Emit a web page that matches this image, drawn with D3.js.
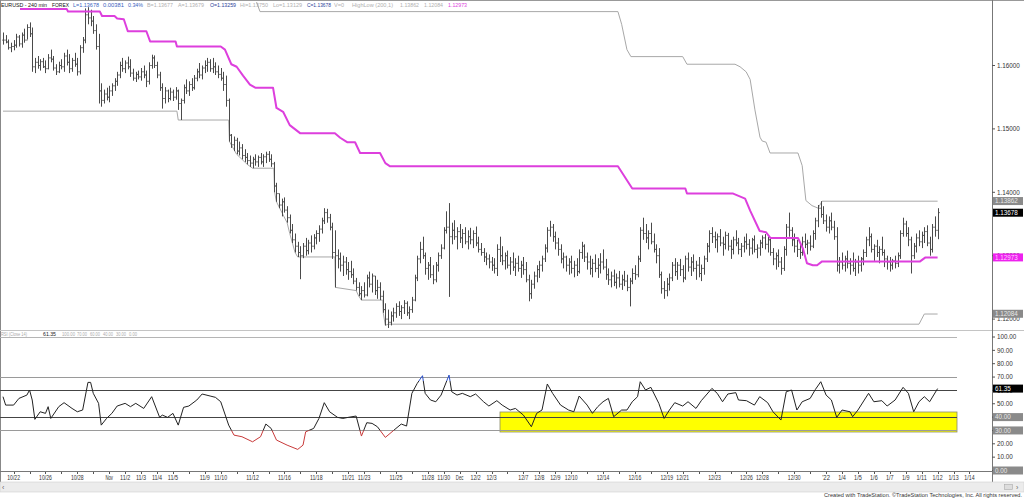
<!DOCTYPE html>
<html><head><meta charset="utf-8">
<script src="https://cdn.jsdelivr.net/npm/d3@7"></script>
<style>body{margin:0;background:#fff;}svg{display:block;}</style>
</head><body><svg id="c" width="1024" height="499"></svg>
<script>
// ---------- DATA ----------
const hi=[1.1652,1.1648,1.1641,1.1636,1.1640,1.1650,1.1648,1.1652,1.1658,1.1665,
1.1668,1.1660,1.1612,1.1615,1.1610,1.1612,1.1608,1.1618,1.1625,1.1615,
1.1602,1.1606,1.1610,1.1620,1.1625,1.1618,1.1612,1.1620,1.1612,1.1632,
1.1645,1.1690,1.1692,1.1688,1.1678,1.1665,1.1650,1.1572,1.1562,1.1565,
1.1568,1.1572,1.1580,1.1590,1.1606,1.1612,1.1608,1.1614,1.1610,1.1595,
1.1590,1.1592,1.1596,1.1600,1.1592,1.1605,1.1617,1.1616,1.1606,1.1590,
1.1572,1.1566,1.1562,1.1565,1.1562,1.1566,1.1562,1.1548,1.1570,1.1578,
1.1575,1.1580,1.1585,1.1595,1.1604,1.1600,1.1608,1.1612,1.1610,1.1612,
1.1605,1.1600,1.1596,1.1590,1.1584,1.1548,1.1492,1.1488,1.1486,1.1480,
1.1476,1.1468,1.1462,1.1458,1.1456,1.1460,1.1458,1.1462,1.1460,1.1464,
1.1465,1.1460,1.1448,1.1415,1.1398,1.1390,1.1392,1.1378,1.1365,1.1350,
1.1335,1.1322,1.1315,1.1320,1.1328,1.1325,1.1332,1.1334,1.1340,1.1348,
1.1360,1.1375,1.1374,1.1366,1.1352,1.1340,1.1310,1.1305,1.1300,1.1298,
1.1290,1.1292,1.1280,1.1265,1.1258,1.1252,1.1258,1.1270,1.1275,1.1272,
1.1268,1.1262,1.1258,1.1245,1.1225,1.1215,1.1212,1.1218,1.1225,1.1228,
1.1222,1.1230,1.1228,1.1220,1.1235,1.1270,1.1300,1.1322,1.1330,1.1305,
1.1290,1.1298,1.1285,1.1290,1.1305,1.1318,1.1345,1.1370,1.1383,1.1352,
1.1356,1.1345,1.1350,1.1342,1.1345,1.1340,1.1344,1.1340,1.1346,1.1330,
1.1320,1.1312,1.1305,1.1302,1.1298,1.1296,1.1318,1.1330,1.1315,1.1305,
1.1308,1.1298,1.1305,1.1296,1.1300,1.1292,1.1298,1.1290,1.1270,1.1262,
1.1275,1.1285,1.1292,1.1300,1.1318,1.1345,1.1355,1.1350,1.1338,1.1328,
1.1318,1.1305,1.1300,1.1296,1.1300,1.1292,1.1296,1.1310,1.1322,1.1318,
1.1305,1.1300,1.1295,1.1302,1.1296,1.1304,1.1310,1.1295,1.1280,1.1275,
1.1278,1.1272,1.1276,1.1270,1.1276,1.1270,1.1265,1.1280,1.1285,1.1300,
1.1345,1.1360,1.1350,1.1340,1.1352,1.1335,1.1318,1.1312,1.1275,1.1260,
1.1265,1.1272,1.1290,1.1296,1.1290,1.1295,1.1285,1.1300,1.1305,1.1298,
1.1302,1.1292,1.1298,1.1286,1.1300,1.1320,1.1340,1.1345,1.1338,1.1335,
1.1342,1.1330,1.1338,1.1336,1.1325,1.1330,1.1340,1.1328,1.1320,1.1330,
1.1335,1.1326,1.1328,1.1332,1.1318,1.1325,1.1332,1.1334,1.1330,1.1328,
1.1312,1.1305,1.1310,1.1298,1.1315,1.1350,1.1368,1.1345,1.1335,1.1325,
1.1320,1.1330,1.1335,1.1325,1.1332,1.1340,1.1360,1.1380,1.1386,1.1378,
1.1365,1.1362,1.1368,1.1355,1.1345,1.1298,1.1305,1.1300,1.1308,1.1296,
1.1305,1.1295,1.1300,1.1298,1.1310,1.1330,1.1345,1.1335,1.1318,1.1325,
1.1315,1.1330,1.1310,1.1300,1.1298,1.1295,1.1300,1.1305,1.1340,1.1360,
1.1355,1.1345,1.1330,1.1320,1.1335,1.1340,1.1338,1.1345,1.1348,1.1330,
1.1350,1.1362,1.1375];
const lo=[1.1633,1.1635,1.1625,1.1621,1.1624,1.1628,1.1630,1.1628,1.1636,1.1641,
1.1645,1.1590,1.1588,1.1595,1.1592,1.1596,1.1588,1.1594,1.1605,1.1592,
1.1585,1.1588,1.1594,1.1590,1.1600,1.1588,1.1590,1.1598,1.1584,1.1586,
1.1620,1.1635,1.1665,1.1662,1.1650,1.1625,1.1540,1.1535,1.1540,1.1545,
1.1542,1.1552,1.1560,1.1568,1.1580,1.1590,1.1588,1.1594,1.1582,1.1576,
1.1574,1.1578,1.1576,1.1580,1.1566,1.1570,1.1595,1.1596,1.1580,1.1560,
1.1532,1.1540,1.1542,1.1545,1.1544,1.1546,1.1530,1.1514,1.1540,1.1555,
1.1552,1.1560,1.1562,1.1575,1.1580,1.1578,1.1588,1.1590,1.1590,1.1588,
1.1585,1.1580,1.1576,1.1560,1.1535,1.1480,1.1470,1.1465,1.1460,1.1458,
1.1452,1.1448,1.1444,1.1440,1.1438,1.1442,1.1440,1.1444,1.1440,1.1446,
1.1448,1.1440,1.1400,1.1385,1.1375,1.1362,1.1368,1.1352,1.1335,1.1320,
1.1305,1.1298,1.1263,1.1296,1.1300,1.1302,1.1305,1.1310,1.1318,1.1322,
1.1335,1.1350,1.1352,1.1340,1.1295,1.1250,1.1280,1.1275,1.1268,1.1270,
1.1262,1.1265,1.1255,1.1245,1.1236,1.1230,1.1234,1.1236,1.1250,1.1242,
1.1238,1.1232,1.1230,1.1210,1.1190,1.1186,1.1190,1.1196,1.1202,1.1205,
1.1200,1.1208,1.1205,1.1200,1.1210,1.1228,1.1260,1.1288,1.1295,1.1270,
1.1262,1.1265,1.1255,1.1258,1.1275,1.1295,1.1310,1.1335,1.1235,1.1318,
1.1325,1.1310,1.1320,1.1312,1.1318,1.1310,1.1318,1.1312,1.1315,1.1305,
1.1300,1.1290,1.1285,1.1280,1.1276,1.1272,1.1268,1.1290,1.1285,1.1278,
1.1280,1.1270,1.1276,1.1268,1.1275,1.1265,1.1270,1.1258,1.1228,1.1232,
1.1248,1.1258,1.1265,1.1275,1.1290,1.1305,1.1330,1.1322,1.1310,1.1300,
1.1288,1.1280,1.1275,1.1270,1.1272,1.1266,1.1268,1.1272,1.1295,1.1290,
1.1278,1.1270,1.1266,1.1274,1.1265,1.1272,1.1278,1.1262,1.1254,1.1250,
1.1252,1.1248,1.1250,1.1246,1.1252,1.1244,1.1220,1.1255,1.1262,1.1266,
1.1290,1.1325,1.1320,1.1310,1.1318,1.1305,1.1288,1.1265,1.1240,1.1232,
1.1236,1.1245,1.1260,1.1268,1.1262,1.1268,1.1258,1.1262,1.1275,1.1268,
1.1275,1.1262,1.1266,1.1260,1.1270,1.1290,1.1305,1.1320,1.1312,1.1305,
1.1315,1.1300,1.1310,1.1308,1.1295,1.1302,1.1315,1.1302,1.1298,1.1305,
1.1310,1.1300,1.1302,1.1305,1.1296,1.1300,1.1312,1.1310,1.1305,1.1300,
1.1285,1.1278,1.1282,1.1270,1.1276,1.1300,1.1330,1.1315,1.1305,1.1298,
1.1295,1.1300,1.1312,1.1302,1.1308,1.1312,1.1325,1.1345,1.1360,1.1350,
1.1338,1.1335,1.1340,1.1325,1.1275,1.1272,1.1278,1.1275,1.1280,1.1270,
1.1275,1.1268,1.1272,1.1275,1.1285,1.1298,1.1315,1.1305,1.1292,1.1298,
1.1288,1.1300,1.1282,1.1278,1.1275,1.1278,1.1280,1.1282,1.1295,1.1330,
1.1330,1.1315,1.1272,1.1295,1.1305,1.1315,1.1312,1.1320,1.1315,1.1300,
1.1305,1.1330,1.1326];
const cl=[1.1640,1.1637,1.1628,1.1630,1.1632,1.1645,1.1634,1.1648,1.1640,1.1660,
1.1650,1.1598,1.1605,1.1600,1.1606,1.1598,1.1595,1.1612,1.1610,1.1596,
1.1590,1.1600,1.1598,1.1615,1.1605,1.1595,1.1608,1.1602,1.1590,1.1628,
1.1640,1.1680,1.1675,1.1670,1.1655,1.1630,1.1560,1.1545,1.1555,1.1550,
1.1560,1.1568,1.1575,1.1585,1.1600,1.1595,1.1604,1.1598,1.1588,1.1580,
1.1586,1.1582,1.1590,1.1585,1.1575,1.1600,1.1612,1.1600,1.1585,1.1565,
1.1548,1.1560,1.1548,1.1558,1.1550,1.1560,1.1540,1.1545,1.1565,1.1560,
1.1570,1.1565,1.1580,1.1590,1.1585,1.1596,1.1600,1.1605,1.1595,1.1598,
1.1590,1.1586,1.1580,1.1570,1.1545,1.1490,1.1475,1.1482,1.1465,1.1470,
1.1458,1.1455,1.1450,1.1446,1.1452,1.1448,1.1455,1.1448,1.1456,1.1460,
1.1452,1.1445,1.1410,1.1398,1.1380,1.1385,1.1372,1.1360,1.1340,1.1325,
1.1315,1.1305,1.1300,1.1315,1.1308,1.1320,1.1315,1.1328,1.1335,1.1342,
1.1355,1.1368,1.1360,1.1345,1.1305,1.1300,1.1295,1.1285,1.1290,1.1278,
1.1275,1.1270,1.1260,1.1250,1.1240,1.1245,1.1238,1.1265,1.1255,1.1268,
1.1245,1.1250,1.1236,1.1215,1.1200,1.1195,1.1205,1.1210,1.1220,1.1212,
1.1218,1.1225,1.1210,1.1215,1.1230,1.1265,1.1295,1.1310,1.1300,1.1280,
1.1285,1.1270,1.1262,1.1285,1.1300,1.1312,1.1340,1.1345,1.1330,1.1340,
1.1330,1.1338,1.1328,1.1335,1.1322,1.1330,1.1325,1.1335,1.1320,1.1310,
1.1305,1.1298,1.1295,1.1290,1.1285,1.1280,1.1310,1.1300,1.1292,1.1300,
1.1285,1.1290,1.1282,1.1288,1.1280,1.1285,1.1278,1.1262,1.1240,1.1255,
1.1268,1.1278,1.1285,1.1295,1.1312,1.1340,1.1345,1.1330,1.1320,1.1310,
1.1295,1.1298,1.1285,1.1290,1.1280,1.1285,1.1275,1.1305,1.1315,1.1298,
1.1290,1.1280,1.1288,1.1280,1.1285,1.1290,1.1282,1.1270,1.1262,1.1268,
1.1258,1.1265,1.1255,1.1262,1.1260,1.1250,1.1260,1.1272,1.1270,1.1295,
1.1340,1.1335,1.1328,1.1335,1.1322,1.1310,1.1300,1.1270,1.1248,1.1245,
1.1255,1.1265,1.1285,1.1275,1.1285,1.1278,1.1265,1.1295,1.1282,1.1290,
1.1280,1.1285,1.1272,1.1280,1.1295,1.1315,1.1335,1.1330,1.1325,1.1330,
1.1320,1.1318,1.1332,1.1315,1.1310,1.1325,1.1320,1.1310,1.1315,1.1322,
1.1318,1.1312,1.1325,1.1310,1.1312,1.1320,1.1328,1.1318,1.1325,1.1305,
1.1295,1.1300,1.1290,1.1280,1.1310,1.1345,1.1340,1.1325,1.1315,1.1310,
1.1305,1.1322,1.1318,1.1320,1.1315,1.1335,1.1355,1.1375,1.1365,1.1355,
1.1345,1.1355,1.1345,1.1330,1.1285,1.1290,1.1285,1.1295,1.1288,1.1285,
1.1280,1.1290,1.1285,1.1295,1.1305,1.1325,1.1330,1.1310,1.1315,1.1305,
1.1310,1.1305,1.1295,1.1290,1.1285,1.1292,1.1288,1.1300,1.1335,1.1350,
1.1335,1.1325,1.1300,1.1315,1.1328,1.1322,1.1332,1.1338,1.1320,1.1310,
1.1345,1.1340,1.1368];

// magenta indicator (bar index, value)
const magBar=[6.4,24,24.5,36.5,37.3,42,43,45.5,47,54,55.4,65,65.5,82,83.6,86,88,90.4,93,95,101.7,103,105.5,108,112,125,127,129.6,132.6,134.5,142,144,145.8,231.6,237,257,257.6,275,279.5,281.4,285,287.4,289,299.4,301.3,302.8,305,306.6,308.5,345.4,347.3,352];
const magVal=[1.1689,1.1689,1.1685,1.1685,1.1678,1.1678,1.1674,1.1673,1.1654,1.1654,1.1638,1.1638,1.1630,1.1630,1.1625,1.1602,1.1598,1.1584,1.1570,1.1565,1.1565,1.1533,1.1527,1.1506,1.1493,1.1493,1.1486,1.1479,1.1479,1.1462,1.1462,1.1446,1.1441,1.1441,1.1406,1.1406,1.1398,1.1398,1.1390,1.1371,1.1339,1.1337,1.1328,1.1328,1.1311,1.1288,1.1285,1.1285,1.1291,1.1291,1.1297,1.1297];
// HighLow(200,1) upper and lower
const hhBar=[95.5,96.8,231.6,233,235,236.5,256,257.6,275.7,277.6,279.9,281.4,283.2,285.1,285.9,287.4,288.9,299.4,301,302.4,304.7,307,308.5,352];
const hhVal=[1.1700,1.1685,1.1685,1.1665,1.1625,1.1614,1.1614,1.1602,1.1602,1.1598,1.1590,1.1578,1.1530,1.1487,1.1481,1.1479,1.1462,1.1462,1.1442,1.1387,1.1379,1.1375,1.1386,1.1386];
const llBar=[0,65.5,66,85,85.3,88,90,92,94,102,102.3,103,107,108,109,110,111,125,125.2,133,134,135,143,143.2,144,145,345,346,347,352];
const llVal=[1.1528,1.1528,1.1514,1.1514,1.1480,1.1460,1.1452,1.1444,1.1438,1.1438,1.1400,1.1385,1.1352,1.1335,1.1320,1.1305,1.1298,1.1298,1.1250,1.1245,1.1236,1.1230,1.1230,1.1210,1.1190,1.1192,1.1192,1.1200,1.1208,1.1208];

// RSI(14) (bar index, value)
const rsiBar=[0,1,4,6,9,10,11,12,14,16,17,18,21,23,26,28,30,32,33,34,36,37,39,41,43,46,48,50,53,56,59,60,62,64,66,68,70,73,75,78,80,82,85,87,90,94,97,99,101,103,107,111,113,114,117,119,121,123,126,128,130,133,135,137,139,141,144,148,150,152,154,156,158,159,161,163,165,168,169,171,173,176,178,181,183,186,188,191,193,196,199,201,203,205,207,210,213,215,217,220,222,224,226,228,230,233,235,237,239,240,242,244,247,249,251,253,256,258,261,263,267,269,271,273,276,277,280,283,285,288,290,293,295,297,299,301,304,306,308,310,312,314,316,319,320,322,326,328,331,333,336,339,341,343,345,347,349,352];
const rsiVal=[55.3,49,49,54,56.5,60.3,52.8,38.3,44,42.8,47.8,39,47.8,50.8,46.5,44,45.3,66,66,57.8,50.3,34,39,42.8,48.3,50.3,47.8,50.3,46.5,55.3,39.8,41.5,39.8,42.8,34,47.3,48.3,52.8,57.3,55.8,54.8,51.5,34,26.5,25.3,21.5,25.3,34.8,31.5,22.8,19,15.8,19,29,31.5,39,50.8,44,39.8,39,39.8,40.8,25.8,35.8,35.3,32.8,24.8,31.5,34.8,33.3,57.8,65.2,71,57.8,52.8,51.5,56.5,71.5,59,56.5,57.8,55.3,57.3,51.5,48.3,52.3,49,45.3,46.5,41.5,32.8,42.8,45.3,64.8,57.8,49,45.3,44,55.8,49,42.8,47.8,51.5,54,40.3,45.3,45.3,51.5,55.3,66.5,60.3,62.3,50.3,39,45.3,50.8,48.3,51.5,46.5,52.3,61.5,57.8,51.5,57.3,58.3,52.8,52.3,49,55.3,50.8,44,37.8,59,60.3,45.3,51.5,54,60.8,66.5,56.5,52.8,39.8,45.3,44,40.3,45.3,57.8,51.5,52.3,48.3,52.8,62.3,57.8,44,51.5,55.3,51.5,61.35];
const rsiLevels=[100,70,60,40,30];

// x-axis: trading-day index -> label
const dayIdx=[0,2,4,6,7,8,9,10,12,13,15,17,19,21,22,24,26,27,28,29,30,32,33,34,35,37,39,41,42,44,46,47,49,51,52,53,54,55,56,57,58,59,60];
const dayLbl=["10/22","10/26","10/28","Nov","11/2","11/3","11/4","11/5","11/9","11/10","11/12","11/16","11/18","11/21","11/23","11/25","11/28","11/30","Dec","12/2","12/3","12/7","12/8","12/9","12/10","12/14","12/16","12/19","12/21","12/23","12/26","12/28","12/30","'22","1/4","1/5","1/6","1/7","1/9","1/11","1/12","1/13","1/14"];
const priceTicks=[1.12,1.13,1.14,1.15,1.16];
const rsiTicks=[100,90,80,70,60,50,40,30,20,10,0];

// ---------- DRAW ----------
const FONT='"Liberation Sans", Arial, sans-serif';
const NARROW='"Liberation Sans Narrow","Arial Narrow","Liberation Sans",Arial,sans-serif';
const svg=d3.select('#c').style('font-family',FONT);
const AX=992;
const x=d3.scaleLinear().domain([0,352]).range([3,937.6]);
const yP=d3.scaleLinear().domain([1.12,1.16]).range([319.1,65.5]);
const yR=d3.scaleLinear().domain([0,100]).range([470.5,337]);
const barsPerDay=6, dayOffset=4;

svg.append('rect').attr('width',1024).attr('height',499).attr('fill','#fff');
const defs=svg.append('defs');
defs.append('clipPath').attr('id','pc').append('rect').attr('x',1).attr('y',1).attr('width',AX-1).attr('height',328);
defs.append('clipPath').attr('id','rsiRed').append('rect').attr('x',0).attr('y',yR(30)).attr('width',AX).attr('height',yR(0)-yR(30));
defs.append('clipPath').attr('id','rsiBlue').append('rect').attr('x',0).attr('y',0).attr('width',AX).attr('height',yR(67));
defs.append('clipPath').attr('id','rsiMid').append('rect').attr('x',0).attr('y',yR(67)).attr('width',AX).attr('height',yR(30)-yR(67));

// frame lines
svg.append('line').attr('x1',0).attr('x2',1024).attr('y1',0.5).attr('y2',0.5).attr('stroke','#999');
svg.append('line').attr('x1',0.5).attr('x2',0.5).attr('y1',0).attr('y2',482).attr('stroke','#888');
svg.append('line').attr('x1',0).attr('x2',1024).attr('y1',330.5).attr('y2',330.5).attr('stroke','#c4c4c4');
svg.append('line').attr('x1',AX+0.5).attr('x2',AX+0.5).attr('y1',0).attr('y2',482).attr('stroke','#777');
svg.append('line').attr('x1',0).attr('x2',AX+1).attr('y1',471.5).attr('y2',471.5).attr('stroke','#777');

// condensed text helper: [text, xStart, width, colour]
function tokens(data,y,size){
  svg.append('g').style('font-family',NARROW).selectAll('text').data(data).join('text')
    .attr('x',d=>d[1]).attr('y',y).attr('fill',d=>d[3]).style('font-size',size+'px')
    .attr('textLength',d=>d[2]).attr('lengthAdjust','spacingAndGlyphs').text(d=>d[0]);
}
tokens([["EURUSD - 240 min",1,46,"#111"],["FOREX",52,17,"#111"],["L=1.13678",73,26,"#3a5fc0"],["0.00381",103,21,"#3a5fc0"],["0.34%",128,15,"#3a5fc0"],
["B=1.13677",147,26,"#b0b0b0"],["A=1.13679",178,26,"#b0b0b0"],["O=1.13259",210,26,"#2b3f9a"],["Hi=1.13750",240,28,"#b0b0b0"],["Lo=1.13129",273,29,"#b0b0b0"],
["C=1.13678",307,24,"#2b3f9a"],["V=0",334,10,"#b0b0b0"],["HighLow (200,1)",352,41,"#b0b0b0"],["1.13862",400,19,"#b0b0b0"],["1.12084",424,19,"#b0b0b0"],["1.12973",448,19,"#dd44dd"]],7.3,5.8);

// price panel
const gp=svg.append('g').attr('clip-path','url(#pc)');
const line=d3.line().x(d=>x(d[0])).y(d=>yP(d[1]));
gp.append('path').attr('d',line(hhBar.map((b,i)=>[b,hhVal[i]]))).attr('fill','none').attr('stroke','#a8a8a8').attr('stroke-width',1);
gp.append('path').attr('d',line(llBar.map((b,i)=>[b,llVal[i]]))).attr('fill','none').attr('stroke','#a8a8a8').attr('stroke-width',1);
const px=i=>Math.round(x(i))+0.5;
let dBars='';
for(let i=0;i<hi.length;i++){
  const o=i?cl[i-1]:cl[0];
  dBars+=`M${px(i)},${yP(hi[i]).toFixed(1)}V${yP(lo[i]).toFixed(1)}`+
         `M${px(i)-1.2},${yP(o).toFixed(1)}H${px(i)}M${px(i)},${yP(cl[i]).toFixed(1)}H${px(i)+1.2}`;
}
gp.append('path').attr('d',dBars).attr('fill','none').attr('stroke','#4a4a4a').attr('stroke-width',1);
gp.append('path').attr('d',line(magBar.map((b,i)=>[b,magVal[i]]))).attr('fill','none').attr('stroke','#dd3fdd').attr('stroke-width',2).attr('stroke-linejoin','round');

// price axis
const pa=svg.append('g');
pa.selectAll('line').data(priceTicks).join('line').attr('x1',AX).attr('x2',AX+3).attr('y1',d=>yP(d)).attr('y2',d=>yP(d)).attr('stroke','#555');
pa.selectAll('text').data(priceTicks).join('text').attr('x',AX+5).attr('y',d=>yP(d)).attr('dy','0.35em').attr('fill','#333').style('font-size','6.3px').text(d=>d.toFixed(5));
function box(y,txt,bg,fg){
  svg.append('rect').attr('x',AX+1).attr('y',y-4).attr('width',1024-AX-2).attr('height',8).attr('fill',bg);
  svg.append('text').attr('x',AX+3).attr('y',y).attr('dy','0.35em').attr('fill',fg).style('font-size','6.3px').text(txt);
}
box(yP(1.13862),'1.13862','#8a8a8a','#e8e8e8');
box(yP(1.13678),'1.13678','#000','#fff');
box(yP(1.12973),'1.12973','#ee22ee','#ffd0ff');
box(yP(1.12084),'1.12084','#8a8a8a','#e8e8e8');

// RSI panel
tokens([["RSI (Close 14)",1,26,"#aaa"],["61.35",43,13,"#222"],["100.00",62,13,"#aaa"],["70.00",77,10,"#aaa"],["60.00",90,10,"#aaa"],["40.00",103,10,"#aaa"],["30.00",116,10,"#aaa"],["0.00",129,8,"#aaa"]],335.5,5.5);
svg.append('rect').attr('x',500).attr('y',412).attr('width',457).attr('height',20).attr('fill','#ffff00').attr('stroke','#8a8a6a').attr('stroke-width',0.8);
const lvlCol={100:'#b5b5b5',70:'#9a9a9a',60:'#444',40:'#444',30:'#9a9a9a'};
svg.append('g').selectAll('line').data(rsiLevels).join('line')
  .attr('x1',0).attr('x2',957).attr('y1',d=>Math.round(yR(d))+0.5).attr('y2',d=>Math.round(yR(d))+0.5)
  .attr('stroke',d=>lvlCol[d]).attr('stroke-width',d=>(d===60||d===40)?1.2:1);
const rl=d3.line().x(d=>x(d[0])).y(d=>yR(d[1]));
const rsiPath=rl(rsiBar.map((b,i)=>[b,rsiVal[i]]));
svg.append('path').attr('d',rsiPath).attr('clip-path','url(#rsiMid)').attr('fill','none').attr('stroke','#222').attr('stroke-width',1);
svg.append('path').attr('d',rsiPath).attr('clip-path','url(#rsiRed)').attr('fill','none').attr('stroke','#c83a3a').attr('stroke-width',1);
svg.append('path').attr('d',rsiPath).attr('clip-path','url(#rsiBlue)').attr('fill','none').attr('stroke','#2a4fc8').attr('stroke-width',1);

// RSI axis
const ra=svg.append('g');
ra.selectAll('line').data(rsiTicks).join('line').attr('x1',AX).attr('x2',AX+3).attr('y1',d=>yR(d)).attr('y2',d=>yR(d)).attr('stroke','#555');
ra.selectAll('text').data(rsiTicks).join('text').attr('x',AX+5).attr('y',d=>yR(d)).attr('dy','0.35em').attr('fill','#333').style('font-size','6.3px').text(d=>d.toFixed(2));
box(yR(61.35),'61.35','#000','#fff');
box(yR(40),'40.00','#8a8a8a','#e8e8e8');
box(yR(30),'30.00','#8a8a8a','#e8e8e8');
box(yR(0),'0.00','#8a8a8a','#e8e8e8');

// x axis
const dayX=k=>x(dayOffset+barsPerDay*k);
svg.append('g').selectAll('line').data(d3.range(0,61)).join('line')
  .attr('x1',k=>Math.round(dayX(k))+0.5).attr('x2',k=>Math.round(dayX(k))+0.5).attr('y1',472).attr('y2',474).attr('stroke','#555');
svg.append('g').style('font-family',NARROW).selectAll('text').data(dayIdx).join('text')
  .attr('x',k=>dayX(k)).attr('y',479.5).attr('text-anchor','middle').attr('fill','#333').style('font-size','6.3px')
  .attr('textLength',(k,i)=>dayLbl[i].length*2.55).attr('lengthAdjust','spacingAndGlyphs').text((k,i)=>dayLbl[i]);

// scroll band + credit
svg.append('rect').attr('x',0).attr('y',482).attr('width',1024).attr('height',10).attr('fill','#ececec').attr('stroke','#d0d0d0').attr('stroke-width',0.6);
svg.append('text').attr('x',2).attr('y',489.5).attr('fill','#666').style('font-size','7px').text('‹');
svg.append('rect').attr('x',1004.5).attr('y',484.5).attr('width',8).attr('height',5).attr('fill','#ddd').attr('stroke','#aaa').attr('stroke-width',0.6);
svg.append('text').attr('x',1016).attr('y',489.5).attr('fill','#666').style('font-size','7px').text('›');
svg.append('text').attr('x',1022).attr('y',496.6).attr('text-anchor','end').attr('fill','#333').style('font-size','5.6px').style('font-family',NARROW)
  .attr('textLength',198).attr('lengthAdjust','spacingAndGlyphs')
  .text('Created with TradeStation. ©TradeStation Technologies, Inc. All rights reserved.');
</script></body></html>
